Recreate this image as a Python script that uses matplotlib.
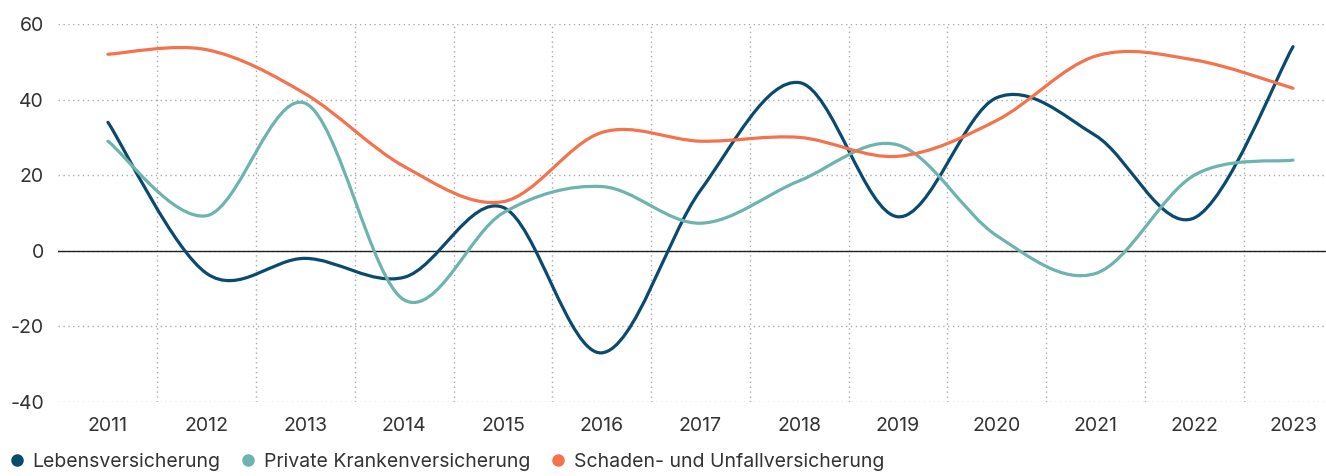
import matplotlib
matplotlib.use('Agg')
import matplotlib.pyplot as plt
from matplotlib.path import Path
from matplotlib.patches import PathPatch
from matplotlib.lines import Line2D

years = [2011, 2012, 2013, 2014, 2015, 2016, 2017, 2018, 2019, 2020, 2021, 2022, 2023]
leben = [34, -6, -2, -7, 11.5, -27, 16, 44.5, 9, 40.5, 30.5, 8.7, 54]
kranken = [29, 9.3, 39, -13, 10, 17, 7.3, 18.5, 28, 4, -6, 20, 24]
schaden = [52, 53.2, 41.5, 22.3, 13, 31.3, 29, 30, 25, 34.5, 51.5, 50.5, 43]

labels = ['Lebensversicherung', 'Private Krankenversicherung', 'Schaden- und Unfallversicherung']
colors = ['#0a4a6e', '#6cb4ad', '#f4724c']

plt.rcParams['font.family'] = ['Inter', 'DejaVu Sans']


def smooth_path(xs, ys):
    # catmull-rom curve drawn as cubic bezier segments
    verts = [(xs[0], ys[0])]
    codes = [Path.MOVETO]
    n = len(xs)
    for i in range(n - 1):
        x0, y0 = (xs[i - 1], ys[i - 1]) if i > 0 else (xs[i], ys[i])
        x1, y1 = xs[i], ys[i]
        x2, y2 = xs[i + 1], ys[i + 1]
        x3, y3 = (xs[i + 2], ys[i + 2]) if i + 2 < n else (x2, y2)
        c1 = (x1 + (x2 - x0) / 6, y1 + (y2 - y0) / 6)
        c2 = (x2 - (x3 - x1) / 6, y2 - (y3 - y1) / 6)
        verts += [c1, c2, (x2, y2)]
        codes += [Path.CURVE4] * 3
    return Path(verts, codes)


fig = plt.figure(figsize=(13.26, 4.76), dpi=100)
ax = fig.add_axes([58 / 1326, 1 - 402 / 476, 1 - 58 / 1326, 378 / 476])

xs = list(range(len(years)))
for vals, c in zip([leben, kranken, schaden], colors):
    ax.add_patch(PathPatch(smooth_path(xs, vals), fill=False, edgecolor=c, lw=2.3,
                           capstyle='round', zorder=3))

ax.set_xlim(-0.506, 12.334)
ax.set_ylim(-40, 60)
ax.set_yticks([-40, -20, 0, 20, 40, 60])
ax.set_yticklabels(['-40', '-20', '0', '20', '40', '60'])
ax.set_xticks(xs)
ax.set_xticklabels([str(y) for y in years])
ax.set_xticks([x + 0.5 for x in xs[:-1]], minor=True)

ax.grid(which='major', axis='y', color='#aaaaaa', linestyle=(0, (1, 2.5)), lw=1)
ax.grid(which='minor', axis='x', color='#aaaaaa', linestyle=(0, (1, 2.5)), lw=1)
ax.axhline(0, color='#222222', lw=1, zorder=2)

ax.tick_params(which='both', length=0)
ax.tick_params(axis='y', pad=10, labelsize=14, labelcolor='#333333')
ax.tick_params(axis='x', pad=11, labelsize=14, labelcolor='#333333')
for s in ax.spines.values():
    s.set_visible(False)

handles = [Line2D([], [], marker='o', color=c, linestyle='none', markersize=8) for c in colors]
fig.legend(handles, labels, loc='lower left', bbox_to_anchor=(0.0, -0.006), ncol=3,
           frameon=False, fontsize=14, handletextpad=0.35, columnspacing=1.0,
           borderaxespad=0, handlelength=0.9, labelcolor='#333333')

fig.savefig('out.png', dpi=100)
